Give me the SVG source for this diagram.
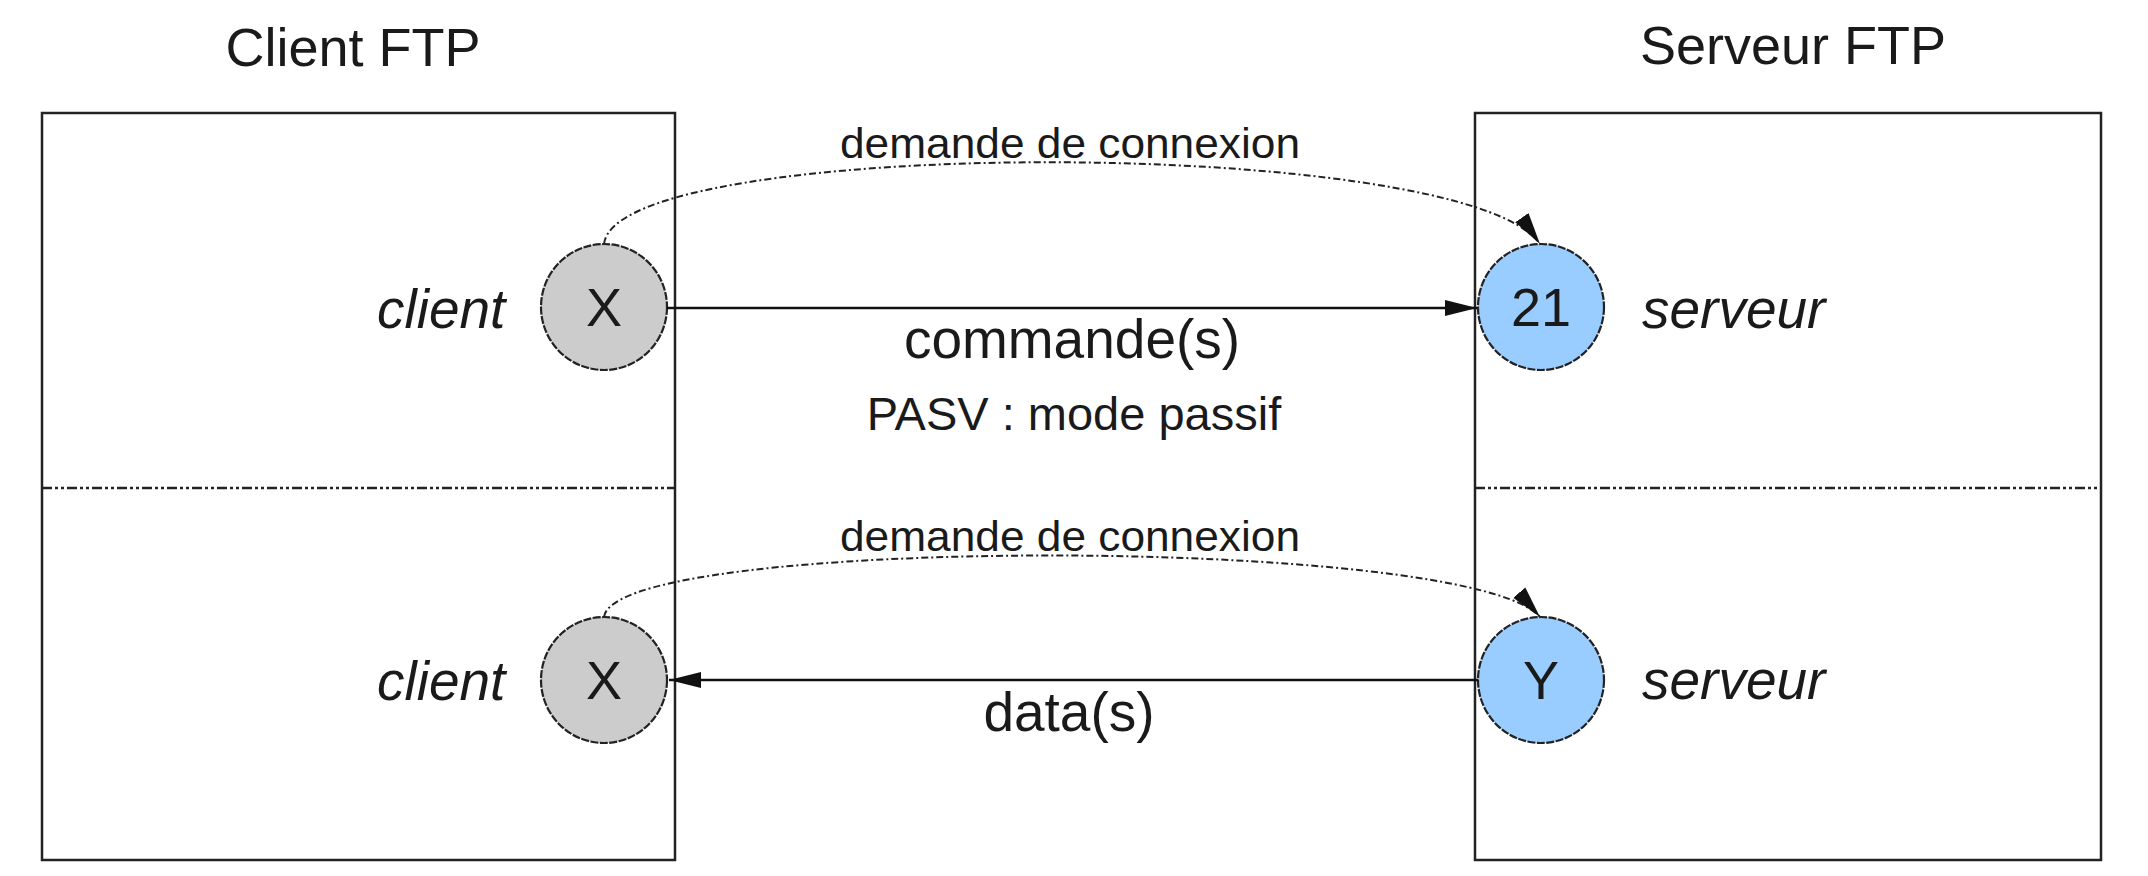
<svg xmlns="http://www.w3.org/2000/svg" width="2148" height="876" viewBox="0 0 2148 876">
<style>
text{font-family:"Liberation Sans",Arial,sans-serif;fill:#1a1a1a}
.title{font-size:54px;text-anchor:middle}
.role{font-size:55px;font-style:italic}
.port{font-size:54px;text-anchor:middle}
.lbl{font-size:55px;text-anchor:middle}
.small{font-size:47px;text-anchor:middle}
.req{font-size:43px;text-anchor:middle}
.box{fill:none;stroke:#222;stroke-width:2.5}
.div{stroke:#222;stroke-width:2.5;stroke-dasharray:10 3 3 3 3 3}
.cli{fill:#cccccc;stroke:#222;stroke-width:2.2;stroke-dasharray:8 1.5}
.srv{fill:#99ccff;stroke:#222;stroke-width:2.2;stroke-dasharray:8 1.5}
.solid{fill:none;stroke:#111;stroke-width:2.5}
.dash{fill:none;stroke:#222;stroke-width:2;stroke-dasharray:7 3 2 3}
</style>
<defs>
<marker id="arr" markerWidth="34" markerHeight="18" refX="32" refY="9" orient="auto" markerUnits="userSpaceOnUse">
<path d="M0,1 L32,9 L0,17 Z" fill="#111"/>
</marker>
</defs>
<g id="client-ftp">
<text class="title" x="353" y="66">Client FTP</text>
<rect class="box" x="42" y="113" width="633" height="747"/>
<line class="div" x1="42" y1="488" x2="675" y2="488"/>
</g>
<g id="serveur-ftp">
<text class="title" x="1793" y="64">Serveur FTP</text>
<rect class="box" x="1475" y="113" width="626" height="747"/>
<line class="div" x1="1475" y1="488" x2="2101" y2="488"/>
</g>
<g id="client-x1">
<circle class="cli" cx="604" cy="307" r="63"/>
<text class="port" x="604" y="326">X</text>
<text class="role" x="377" y="328">client</text>
</g>
<g id="serveur-21">
<circle class="srv" cx="1541" cy="307" r="63"/>
<text class="port" x="1541" y="326">21</text>
<text class="role" x="1642" y="328">serveur</text>
</g>
<g id="client-x2">
<circle class="cli" cx="604" cy="680" r="63"/>
<text class="port" x="604" y="699">X</text>
<text class="role" x="377" y="700">client</text>
</g>
<g id="serveur-y">
<circle class="srv" cx="1541" cy="680" r="63"/>
<text class="port" x="1541" y="699">Y</text>
<text class="role" x="1642" y="699">serveur</text>
</g>
<g id="connectors">
<path class="dash" d="M604,244 C616,135 1465,135 1540,244" marker-end="url(#arr)"/>
<line class="solid" x1="667" y1="308" x2="1477" y2="308" marker-end="url(#arr)"/>
<path class="dash" d="M604,617 C614,535 1470,535 1540,617" marker-end="url(#arr)"/>
<line class="solid" x1="1478" y1="680" x2="669" y2="680" marker-end="url(#arr)"/>
<text class="req" x="1070" y="158" textLength="460" lengthAdjust="spacingAndGlyphs">demande de connexion</text>
<text class="lbl" x="1072" y="358">commande(s)</text>
<text class="small" x="1074" y="430">PASV : mode passif</text>
<text class="req" x="1070" y="551" textLength="460" lengthAdjust="spacingAndGlyphs">demande de connexion</text>
<text class="lbl" x="1069" y="731">data(s)</text>
</g>
</svg>
